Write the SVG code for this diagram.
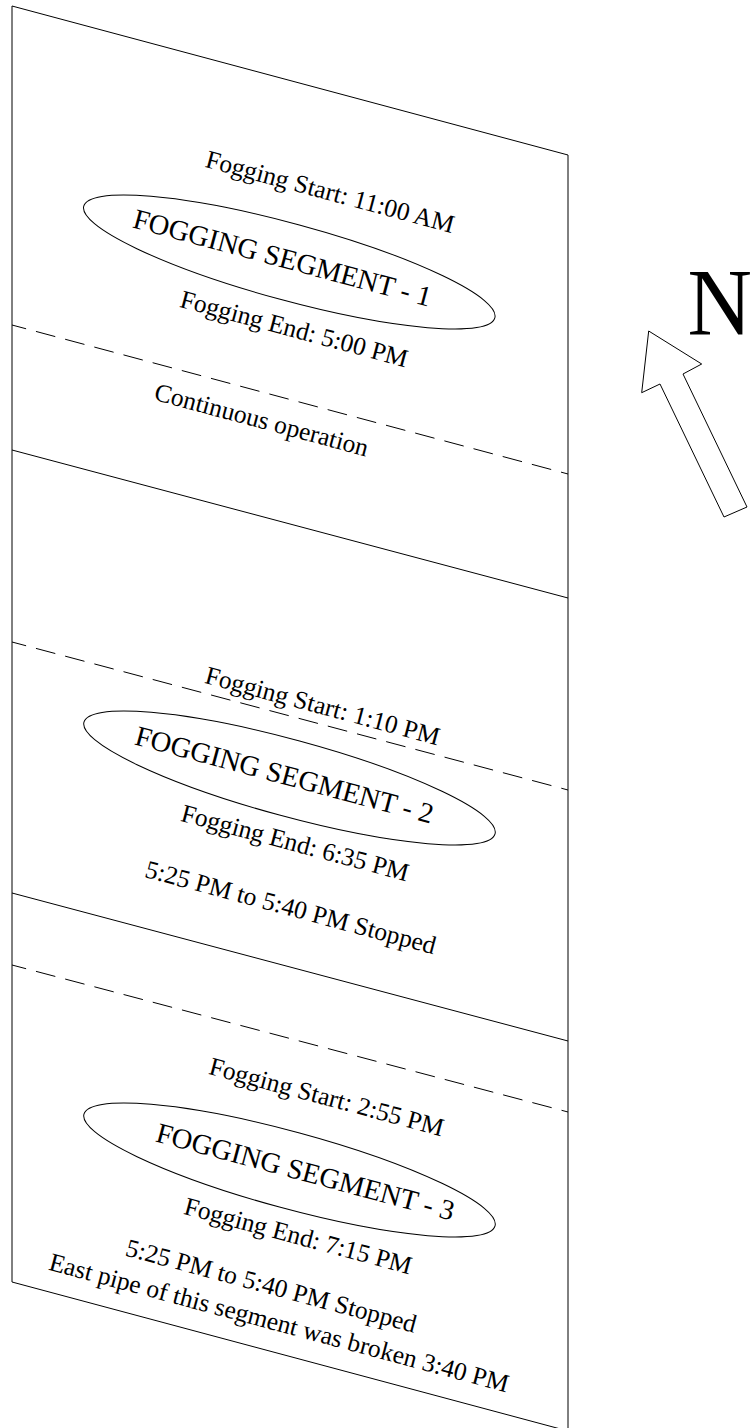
<svg xmlns="http://www.w3.org/2000/svg" width="752" height="1428" viewBox="0 0 752 1428">
<style>
.l{fill:none;stroke:#000;stroke-width:1}
.d{stroke-dasharray:20 10.2;stroke-dashoffset:5.4}
text{font-family:"Liberation Serif","Times New Roman",serif;fill:#000;text-anchor:middle}
.s{font-size:25.5px}
.b{font-size:28.5px}
</style>
<rect width="752" height="1428" fill="#fff"/>
<g id="connectors">
<path class="l" d="M12 6L568 155V1428M12 6V1282L568 1431"/>
<path class="l" d="M12 450L568 598"/>
<path class="l" d="M12 893L568 1041"/>
<path class="l d" d="M12 325L568 474"/>
<path class="l d" d="M12 642L568 790"/>
<path class="l d" d="M12 965L568 1112"/>
<path class="l" d="M724 517L660 384L641.700 392.700L648.700 331L701.700 364L683 374L747 507Z"/>
</g>
<g id="segment-1">
<ellipse class="l" cx="289.300" cy="262" rx="213" ry="38.400" transform="rotate(15.200 289.300 262)"/>
<text class="s" transform="translate(328 200) rotate(15)">Fogging Start: 11:00 AM</text>
<text class="b" transform="translate(280 267) rotate(15)">FOGGING SEGMENT - 1</text>
<text class="s" transform="translate(292 337) rotate(15)">Fogging End: 5:00 PM</text>
<text class="s" transform="translate(259.500 428) rotate(15)">Continuous operation</text>
</g>
<g id="segment-2">
<ellipse class="l" cx="289.500" cy="778" rx="213" ry="38.400" transform="rotate(15.200 289.500 778)"/>
<text class="s" transform="translate(320.500 714) rotate(15)">Fogging Start: 1:10 PM</text>
<text class="b" transform="translate(282 784) rotate(15)">FOGGING SEGMENT - 2</text>
<text class="s" transform="translate(293 851) rotate(15)">Fogging End: 6:35 PM</text>
<text class="s" transform="translate(288.500 915.500) rotate(15)">5:25 PM to 5:40 PM Stopped</text>
</g>
<g id="segment-3">
<ellipse class="l" cx="289.500" cy="1170" rx="213" ry="38.400" transform="rotate(15.200 289.500 1170)"/>
<text class="s" transform="translate(324.500 1105) rotate(15)">Fogging Start: 2:55 PM</text>
<text class="b" transform="translate(303 1181) rotate(15)">FOGGING SEGMENT - 3</text>
<text class="s" transform="translate(296 1244) rotate(15)">Fogging End: 7:15 PM</text>
<text class="s" transform="translate(269 1294) rotate(15)">5:25 PM to 5:40 PM Stopped</text>
<text class="s" transform="translate(277 1331) rotate(15)">East pipe of this segment was broken 3:40 PM</text>
</g>
<g id="north">
<text transform="translate(687.500 335) scale(.93 1)" font-size="96px" style="text-anchor:start">N</text>
</g>
</svg>
